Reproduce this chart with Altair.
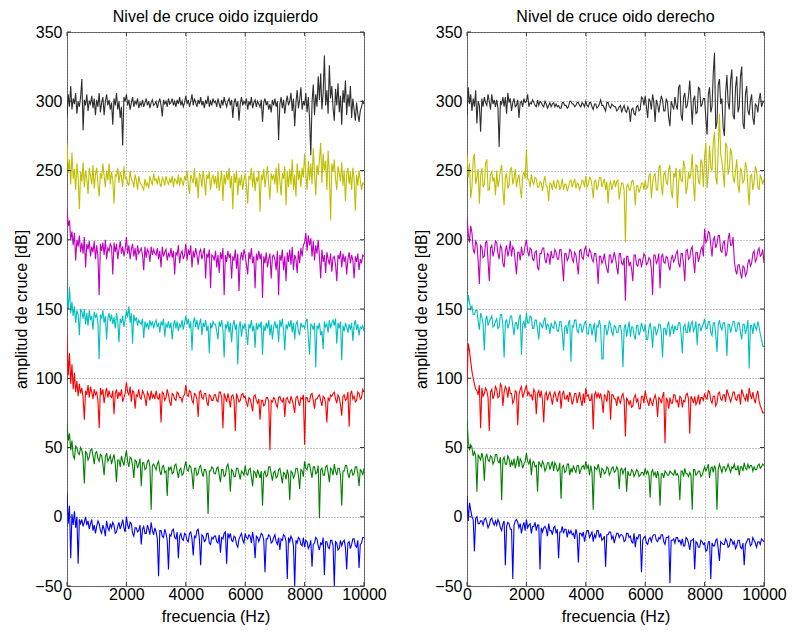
import altair as alt
import pandas as pd
import numpy as np

# ---- axis ticks / labels ----
x_ticks = [0, 2000, 4000, 6000, 8000, 10000]
y_ticks = [-50, 0, 50, 100, 150, 200, 250, 300, 350]
titles = ["Nivel de cruce oido izquierdo", "Nivel de cruce oido derecho"]
series_names = ["negro", "amarillo", "magenta", "cian", "rojo", "verde", "azul"]
series_colors = ["#2e2e2e", "#bfbf00", "#bf00bf", "#00bfbf", "#ff0000", "#008000", "#0000ff"]

# ---- left ear (one row ~ 500 Hz) ----
left_black = [
    288, 305, 296, 311, 294, 302, 298, 306, 291, 300, 296, 303,
    316, 279, 301, 297, 305, 293, 300, 298, 304, 295, 302, 290,
    301, 296, 306, 292, 299, 303, 290, 300, 305, 297, 301, 294,
    299, 283, 302, 297, 306, 294, 300, 288, 296, 268, 303, 300,
    305, 297, 301, 294, 299, 303, 296, 300, 298, 302, 295, 299,
    297, 301, 296, 299, 302, 297, 300, 295, 299, 301, 297, 298,
    300, 295, 299, 302, 297, 289, 301, 298, 300, 296, 302, 298,
    299, 302, 297, 300, 296, 301, 298, 303, 297, 300, 296, 299,
    304, 298, 301, 296, 300, 305, 297, 302, 299, 296, 301, 298,
    303, 297, 300, 295, 301, 298, 304, 296, 300, 297, 302, 299,
    300, 296, 302, 298, 295, 301, 297, 303, 299, 296, 300, 302,
    297, 301, 288, 299, 302, 296, 300, 286, 298, 303, 297, 300,
    298, 302, 294, 300, 297, 303, 295, 299, 301, 296, 300, 298,
    296, 301, 285, 299, 302, 297, 300, 294, 298, 292, 301, 297,
    302, 296, 300, 272, 298, 303, 295, 301, 291, 299, 304, 297,
    300, 306, 293, 302, 282, 299, 308, 295, 301, 310, 294, 300,
    297, 306, 292, 303, 288, 261, 299, 312, 290, 305, 296, 318,
    301, 320, 294, 306, 333, 297, 308, 291, 326, 302, 311, 295,
    286, 309, 297, 313, 292, 304, 283, 308, 299, 315, 290, 305,
    296, 311, 288, 302, 294, 286, 299, 291, 285, 293, 296, 300,
    298]
left_yellow = [
    270, 248, 258, 240, 263, 244, 251, 236, 255, 245, 222, 249,
    242, 256, 238, 250, 244, 233, 252, 246, 240, 254, 237, 247,
    252, 240, 231, 248, 244, 255, 246, 238, 250, 243, 255, 240,
    249, 243, 226, 247, 246, 252, 241, 249, 245, 238, 253, 244,
    245, 241, 239, 250, 244, 242, 238, 247, 243, 236, 246, 241,
    240, 238, 236, 244, 239, 241, 237, 246, 242, 240, 248, 243,
    244, 240, 246, 241, 238, 245, 243, 239, 246, 242, 240, 244,
    241, 246, 238, 244, 243, 240, 247, 239, 245, 242, 239, 246,
    243, 250, 240, 233, 247, 244, 241, 252, 238, 245, 230, 248,
    246, 238, 250, 243, 232, 247, 244, 249, 236, 244, 247, 240,
    246, 237, 249, 235, 243, 250, 228, 247, 240, 249, 243, 252,
    237, 246, 222, 248, 241, 250, 232, 245, 239, 247, 236, 243,
    248, 240, 226, 246, 244, 252, 238, 249, 235, 245, 242, 250,
    220, 247, 243, 251, 238, 246, 253, 240, 229, 248, 244, 247,
    240, 252, 234, 255, 243, 232, 248, 244, 253, 225, 249, 238,
    251, 240, 258, 236, 247, 231, 255, 243, 250, 238, 252, 245,
    262, 248, 236, 257, 243, 255, 240, 266, 249, 232, 254, 247,
    258, 270, 241, 262, 250, 257, 236, 264, 248, 214, 255, 249,
    258, 244, 236, 253, 248, 242, 256, 239, 250, 228, 247, 252,
    240, 249, 236, 252, 244, 221, 247, 239, 250, 243, 236, 241,
    240]
left_magenta = [
    222, 210, 214, 200, 206, 196, 205, 185, 200, 195, 203, 191,
    198, 190, 202, 180, 197, 193, 199, 188, 195, 191, 199, 186,
    196, 188, 160, 197, 192, 198, 189, 200, 186, 194, 192, 197,
    195, 175, 198, 191, 197, 186, 193, 199, 190, 195, 188, 193,
    202, 190, 196, 186, 193, 197, 188, 194, 185, 196, 190, 192,
    194, 189, 178, 195, 187, 193, 191, 184, 195, 189, 193, 190,
    189, 194, 186, 192, 180, 195, 188, 191, 193, 185, 190, 188,
    194, 187, 192, 175, 191, 189, 196, 183, 190, 192, 186, 189,
    197, 185, 193, 189, 196, 180, 192, 187, 194, 189, 182, 191,
    193, 186, 190, 194, 172, 190, 187, 193, 165, 189, 188, 185,
    192, 180, 189, 176, 191, 186, 194, 160, 189, 184, 192, 187,
    190, 172, 188, 185, 193, 179, 190, 163, 186, 191, 185, 193,
    189, 182, 175, 191, 186, 194, 183, 188, 165, 190, 185, 192,
    186, 190, 158, 188, 183, 191, 180, 186, 190, 172, 188, 189,
    186, 178, 192, 160, 189, 185, 193, 178, 188, 170, 191, 184,
    193, 182, 195, 178, 189, 186, 176, 192, 183, 194, 188, 196,
    198, 205, 192, 203, 196, 201, 188, 199, 185, 196, 190, 200,
    188, 172, 193, 184, 189, 176, 191, 186, 182, 190, 177, 187,
    188, 182, 170, 189, 186, 192, 180, 190, 184, 188, 175, 186,
    191, 183, 189, 185, 172, 188, 184, 190, 178, 186, 183, 189,
    188]
left_cyan = [
    162, 150, 166, 147, 155, 145, 152, 140, 149, 146, 131, 150,
    148, 143, 150, 139, 147, 138, 149, 142, 145, 135, 148, 144,
    146, 140, 114, 146, 143, 149, 140, 145, 128, 143, 147, 141,
    146, 139, 144, 136, 147, 141, 126, 143, 140, 145, 137, 142,
    149, 144, 152, 140, 147, 125, 146, 141, 144, 138, 142, 140,
    139, 143, 129, 141, 137, 140, 135, 142, 138, 141, 136, 140,
    142, 137, 140, 133, 141, 138, 143, 130, 139, 137, 141, 136,
    140, 128, 138, 142, 136, 141, 134, 139, 137, 142, 135, 140,
    145, 139, 143, 136, 141, 120, 140, 144, 137, 142, 135, 139,
    143, 131, 140, 137, 142, 134, 138, 118, 140, 136, 141, 139,
    139, 134, 128, 141, 137, 142, 135, 115, 139, 136, 141, 133,
    140, 126, 138, 142, 135, 139, 110, 137, 141, 130, 138, 136,
    140, 132, 124, 139, 136, 142, 134, 138, 122, 140, 135, 139,
    137, 141, 117, 138, 134, 140, 136, 142, 131, 139, 128, 137,
    141, 136, 139, 126, 142, 137, 143, 135, 120, 139, 136, 140,
    137, 142, 133, 140, 128, 139, 141, 134, 131, 140, 137, 138,
    136, 141, 143, 130, 117, 139, 138, 135, 140, 108, 138, 136,
    140, 131, 134, 121, 141, 137, 139, 133, 142, 136, 140, 142,
    138, 143, 125, 140, 136, 141, 113, 138, 134, 140, 137, 133,
    139, 135, 140, 127, 138, 142, 135, 139, 131, 137, 136, 138,
    134]
left_red = [
    131, 102, 118, 96, 110, 92, 104, 90, 98, 87, 96, 89,
    93, 86, 70, 91, 88, 95, 86, 94, 90, 85, 92, 88,
    90, 84, 64, 93, 88, 92, 82, 89, 93, 86, 91, 87,
    86, 91, 74, 89, 92, 85, 90, 87, 92, 83, 86, 89,
    97, 90, 88, 94, 83, 91, 90, 78, 88, 87, 92, 86,
    85, 91, 89, 86, 80, 90, 88, 84, 91, 86, 88, 85,
    91, 86, 85, 89, 68, 90, 89, 84, 86, 92, 88, 83,
    80, 89, 88, 85, 84, 90, 89, 86, 86, 83, 87, 88,
    95, 88, 87, 91, 90, 84, 82, 89, 88, 85, 72, 90,
    91, 86, 85, 89, 89, 83, 80, 88, 87, 84, 84, 88,
    88, 84, 83, 90, 90, 86, 64, 89, 86, 83, 89, 85,
    79, 87, 88, 84, 62, 89, 86, 83, 84, 88, 89, 86,
    87, 82, 80, 86, 85, 81, 76, 87, 88, 84, 82, 85,
    70, 84, 84, 80, 81, 86, 86, 83, 48, 84, 83, 86,
    85, 81, 79, 86, 87, 84, 83, 86, 72, 85, 86, 83,
    82, 87, 84, 80, 75, 86, 87, 83, 80, 86, 85, 88,
    52, 86, 86, 83, 83, 88, 89, 84, 78, 85, 85, 87,
    88, 84, 80, 87, 86, 82, 68, 86, 84, 88, 87, 89,
    90, 85, 82, 88, 86, 81, 73, 87, 88, 84, 85, 90,
    65, 88, 91, 85, 87, 83, 84, 90, 89, 85, 86, 92,
    90]
left_green = [
    68, 55, 60, 48, 55, 44, 42, 51, 50, 46, 45, 50,
    48, 43, 24, 47, 46, 41, 43, 48, 49, 44, 38, 46,
    47, 42, 40, 45, 44, 38, 30, 43, 46, 40, 42, 44,
    38, 42, 45, 38, 25, 41, 41, 36, 44, 40, 37, 43,
    48, 40, 36, 43, 42, 37, 28, 41, 40, 35, 38, 42,
    22, 39, 39, 34, 35, 40, 41, 36, 5, 37, 38, 36,
    34, 38, 40, 33, 30, 36, 37, 32, 33, 15, 36, 34,
    36, 31, 32, 37, 38, 33, 28, 34, 35, 30, 31, 36,
    40, 34, 33, 37, 36, 31, 20, 35, 35, 30, 31, 36,
    37, 32, 29, 34, 34, 30, 2, 33, 33, 36, 35, 31,
    31, 35, 36, 30, 25, 34, 34, 29, 30, 36, 38, 33,
    18, 34, 33, 29, 29, 35, 35, 31, 27, 33, 32, 30,
    37, 31, 30, 34, 35, 29, 22, 33, 32, 28, 34, 31,
    28, 33, 8, 31, 33, 29, 30, 36, 36, 31, 26, 32,
    33, 28, 29, 34, 35, 30, 24, 32, 31, 27, 34, 30,
    12, 33, 32, 28, 30, 35, 35, 30, 20, 34, 33, 29,
    40, 35, 34, 38, 38, 33, 28, 36, 36, 31, 32, 37,
    -1, 34, 35, 30, 30, 36, 37, 32, 25, 35, 34, 30,
    38, 33, 30, 35, 35, 30, 8, 33, 33, 37, 37, 31,
    28, 33, 34, 30, 31, 36, 36, 31, 22, 34, 33, 30,
    35]
left_blue = [
    17, -5, 8, -30, 2, -6, 4, -8, 0, -34, -2, -5,
    -2, -7, -4, 0, -6, -3, -9, -5, -2, -10, -6, -12,
    -7, -3, -5, -10, -12, -6, -9, -14, -3, -8, -10, -5,
    -8, -4, -6, -12, -11, -7, -4, -9, -6, -2, -8, -11,
    0, -6, -9, -4, -5, -12, -14, -8, -8, -11, -10, -6,
    -20, -9, -7, -12, -12, -6, -9, -13, -4, -10, -13, -8,
    -11, -16, -43, -10, -10, -14, -15, -9, -12, -17, -38, -13,
    -14, -10, -9, -15, -16, -11, -30, -14, -12, -16, -17, -12,
    -13, -17, -18, -12, -11, -16, -28, -14, -15, -10, -9, -16,
    -35, -13, -14, -18, -17, -12, -12, -19, -20, -15, -16, -14,
    -14, -18, -19, -13, -26, -15, -16, -12, -11, -34, -12, -15,
    -12, -17, -18, -14, -15, -20, -22, -16, -14, -12, -17, -19,
    -12, -15, -16, -13, -14, -19, -11, -17, -30, -14, -15, -18,
    -15, -12, -13, -17, -40, -16, -16, -13, -14, -19, -18, -15,
    -13, -18, -20, -15, -24, -16, -17, -13, -14, -18, -45, -15,
    -18, -14, -16, -21, -50, -17, -19, -15, -16, -20, -21, -15,
    -22, -17, -18, -23, -21, -17, -36, -20, -19, -15, -16, -21,
    -24, -19, -20, -15, -42, -18, -18, -22, -23, -17, -17, -21,
    -50, -18, -19, -24, -23, -17, -21, -18, -17, -22, -38, -19,
    -18, -23, -20, -16, -16, -21, -22, -17, -37, -20, -19, -15,
    -15]

# ---- right ear ----
right_black = [
    290, 310, 298, 305, 293, 302, 296, 308, 284, 300, 297, 278,
    302, 296, 303, 299, 297, 305, 300, 294, 305, 298, 301, 296,
    301, 295, 267, 300, 298, 303, 296, 303, 291, 306, 299, 302,
    293, 299, 302, 296, 297, 301, 288, 299, 300, 296, 302, 299,
    300, 305, 296, 299, 298, 301, 299, 297, 296, 301, 297, 300,
    299, 297, 296, 300, 298, 295, 297, 299, 296, 298, 299, 296,
    298, 296, 297, 295, 295, 299, 299, 297, 297, 295, 296, 300,
    300, 298, 298, 296, 297, 299, 299, 297, 296, 299, 298, 296,
    300, 297, 296, 299, 299, 296, 294, 298, 298, 295, 296, 298,
    301, 297, 297, 295, 293, 299, 299, 296, 295, 298, 297, 296,
    296, 293, 294, 296, 297, 292, 295, 297, 293, 292, 296, 294,
    285, 294, 295, 291, 290, 296, 297, 293, 294, 303, 302, 297,
    304, 296, 288, 302, 300, 294, 305, 299, 285, 301, 298, 292,
    298, 304, 301, 293, 293, 302, 299, 288, 282, 300, 297, 294,
    303, 297, 294, 310, 312, 290, 286, 303, 306, 295, 297, 304,
    315, 300, 283, 301, 304, 291, 292, 310, 309, 296, 298, 302,
    302, 288, 276, 305, 310, 292, 296, 320, 335, 280, 285, 312,
    316, 298, 302, 281, 275, 306, 319, 299, 294, 315, 323, 290,
    287, 310, 318, 292, 296, 318, 325, 284, 280, 305, 311, 293,
    290, 300, 305, 288, 283, 298, 297, 292, 301, 306, 296, 299,
    300]
right_yellow = [
    262, 245, 255, 230, 238, 258, 262, 240, 245, 251, 226, 246,
    252, 238, 240, 255, 258, 236, 236, 247, 249, 242, 245, 232,
    250, 238, 243, 250, 254, 236, 225, 245, 248, 237, 240, 251,
    252, 240, 244, 251, 238, 244, 247, 237, 230, 246, 249, 244,
    265, 244, 243, 238, 247, 242, 240, 245, 244, 238, 238, 242,
    241, 235, 242, 246, 239, 238, 228, 241, 240, 236, 243, 238,
    237, 243, 242, 236, 239, 244, 236, 240, 240, 235, 238, 242,
    243, 238, 241, 244, 237, 241, 240, 236, 239, 243, 242, 238,
    246, 238, 240, 245, 244, 239, 230, 242, 243, 236, 239, 245,
    245, 238, 241, 244, 236, 242, 226, 240, 242, 236, 240, 243,
    238, 242, 243, 229, 236, 241, 241, 235, 198, 238, 240, 236,
    236, 242, 243, 238, 225, 239, 239, 234, 237, 241, 241, 236,
    243, 237, 238, 246, 248, 230, 241, 246, 248, 236, 236, 252,
    254, 240, 232, 247, 249, 241, 240, 251, 254, 235, 230, 248,
    245, 252, 223, 240, 251, 243, 242, 257, 253, 233, 238, 249,
    244, 249, 262, 240, 228, 254, 253, 242, 240, 258, 255, 238,
    260, 270, 237, 248, 268, 252, 250, 270, 278, 245, 240, 265,
    291, 262, 256, 248, 238, 270, 268, 247, 252, 266, 262, 245,
    241, 250, 258, 239, 234, 252, 249, 241, 243, 256, 252, 238,
    225, 246, 247, 236, 241, 253, 250, 238, 236, 247, 244, 240,
    244]
right_magenta = [
    216, 205, 198, 210, 205, 193, 190, 199, 197, 185, 168, 196,
    195, 187, 188, 198, 199, 185, 170, 194, 196, 188, 192, 199,
    198, 190, 186, 196, 194, 183, 180, 192, 196, 188, 192, 199,
    188, 195, 193, 184, 175, 191, 191, 185, 195, 189, 190, 196,
    200, 192, 188, 194, 193, 186, 185, 191, 192, 180, 178, 190,
    190, 194, 194, 186, 183, 190, 189, 182, 192, 187, 187, 193,
    191, 186, 186, 193, 193, 182, 170, 190, 190, 185, 187, 193,
    192, 186, 184, 191, 189, 182, 175, 192, 193, 187, 186, 193,
    195, 189, 188, 193, 191, 186, 184, 190, 190, 183, 168, 188,
    188, 183, 185, 190, 183, 179, 176, 189, 189, 183, 186, 191,
    187, 180, 175, 190, 190, 183, 182, 187, 156, 188, 188, 181,
    184, 179, 170, 189, 189, 182, 181, 186, 186, 180, 185, 190,
    188, 182, 183, 187, 186, 179, 160, 189, 189, 183, 185, 190,
    165, 187, 190, 184, 183, 188, 187, 181, 178, 186, 189, 184,
    186, 190, 192, 183, 180, 190, 190, 182, 170, 192, 193, 186,
    187, 193, 195, 185, 176, 191, 191, 184, 188, 193, 195, 188,
    208, 198, 200, 206, 205, 196, 188, 200, 202, 194, 197, 203,
    203, 192, 191, 198, 199, 188, 190, 200, 205, 196, 196, 202,
    185, 178, 175, 182, 182, 176, 172, 181, 180, 174, 176, 183,
    186, 181, 183, 190, 192, 184, 186, 192, 194, 188, 189, 193,
    183]
right_cyan = [
    148, 160, 155, 150, 152, 146, 146, 149, 149, 141, 135, 147,
    144, 139, 120, 142, 145, 138, 141, 143, 145, 137, 138, 141,
    143, 136, 137, 146, 146, 138, 115, 141, 142, 136, 139, 145,
    145, 138, 131, 140, 140, 135, 143, 146, 117, 139, 141, 136,
    147, 140, 140, 145, 144, 136, 136, 142, 142, 135, 128, 140,
    139, 136, 141, 144, 135, 139, 138, 132, 140, 137, 136, 141,
    139, 134, 134, 141, 141, 133, 120, 137, 138, 132, 140, 142,
    112, 138, 137, 142, 142, 134, 133, 139, 139, 133, 136, 140,
    141, 132, 132, 139, 139, 131, 136, 140, 126, 138, 137, 142,
    137, 114, 114, 138, 138, 131, 135, 141, 139, 133, 131, 138,
    137, 133, 133, 138, 138, 132, 108, 136, 139, 130, 136, 141,
    130, 137, 137, 131, 128, 138, 138, 131, 134, 140, 136, 134,
    139, 128, 128, 136, 140, 134, 122, 137, 137, 131, 134, 139,
    139, 133, 115, 136, 136, 131, 138, 141, 130, 136, 138, 132,
    138, 135, 135, 140, 140, 132, 118, 137, 139, 133, 133, 141,
    133, 139, 141, 134, 136, 141, 124, 139, 139, 134, 137, 139,
    143, 136, 136, 141, 141, 133, 131, 140, 140, 132, 119, 138,
    142, 137, 135, 140, 140, 134, 116, 139, 139, 133, 137, 141,
    141, 134, 134, 140, 140, 133, 128, 139, 139, 132, 136, 142,
    107, 138, 138, 132, 140, 137, 135, 141, 137, 132, 128, 123,
    123]
right_red = [
    95, 125, 120, 112, 105, 100, 96, 92, 91, 88, 95, 64,
    93, 87, 89, 93, 91, 86, 62, 90, 92, 85, 88, 94,
    92, 86, 87, 96, 94, 80, 90, 94, 92, 86, 94, 89,
    89, 82, 84, 91, 90, 66, 88, 92, 94, 86, 89, 92,
    95, 88, 90, 87, 88, 84, 92, 90, 74, 89, 91, 86,
    91, 84, 68, 88, 90, 84, 88, 90, 86, 81, 88, 90,
    86, 83, 89, 91, 78, 88, 91, 85, 85, 88, 83, 90,
    87, 81, 84, 89, 89, 82, 86, 90, 84, 80, 89, 82,
    93, 87, 88, 84, 84, 89, 63, 88, 90, 86, 89, 86,
    89, 84, 75, 88, 87, 83, 91, 90, 70, 88, 88, 85,
    85, 80, 87, 84, 82, 87, 89, 84, 58, 86, 84, 81,
    84, 79, 80, 86, 88, 83, 85, 78, 78, 87, 87, 82,
    91, 86, 83, 80, 86, 83, 80, 85, 88, 84, 72, 86,
    85, 82, 87, 90, 53, 86, 84, 78, 86, 82, 82, 88,
    88, 83, 84, 79, 87, 86, 79, 84, 83, 88, 89, 85,
    60, 87, 85, 82, 87, 81, 83, 88, 81, 86, 86, 84,
    89, 86, 85, 91, 90, 84, 82, 87, 87, 80, 82, 89,
    90, 85, 84, 88, 88, 83, 92, 89, 86, 83, 86, 90,
    90, 85, 84, 88, 88, 81, 92, 89, 86, 84, 89, 83,
    93, 88, 85, 90, 85, 82, 88, 91, 84, 80, 78, 75,
    75]
right_green = [
    70, 55, 48, 52, 50, 44, 47, 44, 18, 45, 43, 41,
    46, 42, 26, 43, 45, 41, 40, 44, 43, 38, 40, 45,
    45, 40, 39, 43, 12, 41, 43, 38, 38, 44, 42, 36,
    40, 37, 42, 35, 39, 44, 36, 42, 40, 35, 38, 40,
    46, 40, 38, 42, 30, 39, 40, 36, 37, 18, 40, 38,
    36, 40, 38, 33, 35, 39, 39, 34, 37, 40, 33, 39,
    37, 33, 34, 39, 13, 36, 37, 32, 33, 38, 38, 30,
    35, 32, 37, 34, 32, 37, 37, 31, 34, 36, 37, 34,
    40, 35, 37, 30, 37, 32, 5, 36, 35, 34, 38, 34,
    28, 35, 34, 31, 32, 36, 35, 30, 32, 35, 36, 32,
    33, 36, 34, 20, 34, 35, 31, 34, 35, 18, 33, 30,
    30, 34, 33, 29, 31, 34, 33, 29, 30, 32, 32, 30,
    35, 31, 33, 30, 14, 32, 34, 30, 32, 28, 33, 29,
    8, 31, 31, 28, 33, 32, 30, 30, 33, 32, 31, 30,
    34, 30, 31, 29, 12, 33, 33, 29, 35, 31, 31, 29,
    32, 30, 5, 34, 34, 30, 31, 33, 33, 29, 30, 33,
    36, 33, 35, 38, 28, 35, 36, 32, 37, 34, 5, 34,
    38, 35, 32, 36, 36, 33, 35, 38, 35, 32, 36, 35,
    38, 34, 34, 37, 30, 36, 36, 33, 39, 35, 34, 38,
    35, 37, 37, 33, 36, 34, 34, 37, 38, 35, 36, 38,
    37]
right_blue = [
    15, -3, 10, 5, 0, -2, -25, -1, 0, -5, -5, -3,
    -3, -6, -2, -1, -4, -8, -6, -2, -1, -4, -6, -3,
    -6, -2, -4, -8, -10, -5, -3, -35, -7, -4, -5, -9,
    -9, -45, -6, -3, -2, -4, -8, -5, -12, -7, -4, -10,
    -2, -8, -6, -5, -12, -7, -7, -4, -10, -6, -6, -38,
    -8, -11, -8, -7, -9, -14, -5, -10, -10, -13, -8, -7,
    -12, -9, -30, -11, -11, -7, -12, -9, -9, -15, -10, -12,
    -10, -13, -12, -16, -9, -13, -33, -12, -12, -14, -11, -18,
    -13, -10, -10, -15, -13, -11, -18, -13, -15, -10, -10, -15,
    -12, -17, -16, -14, -36, -13, -13, -11, -11, -16, -14, -19,
    -15, -12, -12, -15, -13, -13, -14, -18, -17, -12, -12, -15,
    -14, -18, -19, -12, -22, -15, -16, -13, -13, -40, -17, -15,
    -14, -19, -20, -16, -15, -18, -14, -13, -13, -17, -18, -15,
    -16, -13, -13, -18, -20, -15, -15, -14, -48, -17, -17, -16,
    -19, -15, -15, -18, -17, -20, -16, -21, -21, -15, -16, -19,
    -24, -17, -17, -16, -38, -18, -19, -22, -22, -17, -18, -20,
    -19, -25, -24, -18, -18, -45, -19, -21, -21, -17, -16, -23,
    -32, -18, -19, -20, -20, -16, -18, -22, -21, -16, -17, -20,
    -18, -23, -21, -17, -17, -22, -23, -19, -35, -20, -18, -16,
    -16, -21, -20, -15, -17, -19, -22, -18, -18, -20, -16, -17,
    -18]

left_series = [left_black, left_yellow, left_magenta, left_cyan, left_red, left_green, left_blue]
right_series = [right_black, right_yellow, right_magenta, right_cyan, right_red, right_green, right_blue]

W, H = 297, 554
FONT = "Liberation Sans"
FS = 16


def build_df(series_list):
    frames = []
    for order, (name, vals) in enumerate(zip(series_names, series_list)):
        f = np.linspace(0, 10000, len(vals))
        frames.append(pd.DataFrame({"f": f, "v": vals, "s": name, "o": order}))
    return pd.concat(frames, ignore_index=True)


x_scale = alt.Scale(domain=[0, 10000], nice=False, zero=False)
y_scale = alt.Scale(domain=[-50, 350], nice=False, zero=False)
x_axis = alt.Axis(values=x_ticks, title="frecuencia (Hz)", format="d",
                  labelFlush=False, labelPadding=0, titlePadding=6)
y_axis = alt.Axis(values=y_ticks, title="amplitud de cruce [dB]", format="d",
                  labelPadding=5, titlePadding=5)


def panel(series_list, title):
    df = build_df(series_list)
    lines = alt.Chart(df).mark_line(strokeWidth=1.1, clip=True).encode(
        x=alt.X("f:Q", scale=x_scale, axis=x_axis),
        y=alt.Y("v:Q", scale=y_scale, axis=y_axis),
        color=alt.Color("s:N", scale=alt.Scale(domain=series_names, range=series_colors), legend=None),
        detail="s:N",
        order=alt.Order("o:Q"),
    )
    xt = pd.DataFrame({"f": x_ticks})
    yt = pd.DataFrame({"v": y_ticks})
    xt_bottom = alt.Chart(xt).mark_rule(color="#333", strokeWidth=1).encode(
        x=alt.X("f:Q", scale=x_scale, axis=x_axis), y=alt.value(H), y2=alt.value(H - 4))
    xt_top = alt.Chart(xt).mark_rule(color="#333", strokeWidth=1).encode(
        x=alt.X("f:Q", scale=x_scale, axis=x_axis), y=alt.value(0), y2=alt.value(4))
    yt_left = alt.Chart(yt).mark_rule(color="#333", strokeWidth=1).encode(
        y=alt.Y("v:Q", scale=y_scale, axis=y_axis), x=alt.value(0), x2=alt.value(4))
    yt_right = alt.Chart(yt).mark_rule(color="#333", strokeWidth=1).encode(
        y=alt.Y("v:Q", scale=y_scale, axis=y_axis), x=alt.value(W), x2=alt.value(W - 4))
    return alt.layer(lines, xt_bottom, xt_top, yt_left, yt_right).properties(
        width=W, height=H,
        title=alt.TitleParams(title, fontSize=FS, fontWeight="normal", font=FONT,
                              color="black", offset=-1, anchor="middle"),
    )


chart = alt.hconcat(panel(left_series, titles[0]), panel(right_series, titles[1]), spacing=26).properties(
    padding={"left": 5, "top": 0, "right": 0, "bottom": 0}
).configure_view(stroke="#555555", strokeWidth=1).configure_axis(
    grid=True, gridDash=[1, 2], gridColor="#888888", gridWidth=1, gridOpacity=1,
    domain=False, ticks=False, tickSize=0,
    labelFont=FONT, labelFontSize=FS, labelColor="black",
    titleFont=FONT, titleFontSize=FS, titleFontWeight="normal", titleColor="black",
)

chart.save("out.html", embed_options={"renderer": "svg", "actions": False})
